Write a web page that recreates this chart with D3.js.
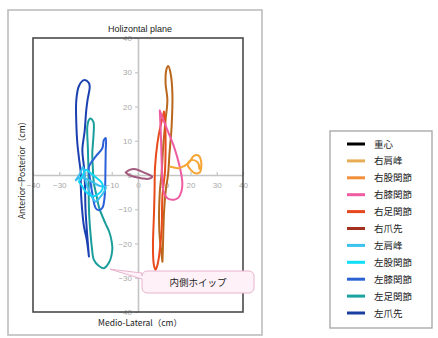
<!DOCTYPE html>
<html>
<head>
<meta charset="utf-8">
<script src="https://cdn.jsdelivr.net/npm/d3@7"></script>
<style>
  html, body { margin: 0; padding: 0; background: #fff; }
  svg { display: block; }
  text { font-family: "Noto Sans CJK JP", "Liberation Sans", sans-serif; }
</style>
</head>
<body>
<svg id="chart" width="438" height="338"></svg>
<script>
// Axis ticks (cm)
const xTicks = [-40, -30, -20, -10, 0, 10, 20, 30, 40];
const yTicks = [-40, -30, -20, -10, 0, 10, 20, 30, 40];

// Legend entries
const seriesNames = ["重心", "右肩峰", "右股関節", "右膝関節", "右足関節", "右爪先",
                     "左肩峰", "左股関節", "左膝関節", "左足関節", "左爪先"];
const seriesColors = ["#000000", "#E8AC52", "#F28F3B", "#EE5CA2", "#E8461E", "#A3301E",
                      "#3CC2EC", "#10DDF6", "#2B62D2", "#1AA3A0", "#1B3FA0"];

// Horizontal-plane trajectories [medio-lateral, anterior-posterior] in cm
const rightShoulder = [[12.4,2.4],[15.6,2.0],[17.5,2.6],[19.4,3.6],[21.3,5.6],[23.2,5.6],[24.0,4.2],
  [24.1,2.4],[23.6,0.8],[21.8,0.5],[20.2,1.4],[18.9,3.2],[20.5,4.4],[22.8,3.6],[23.4,1.8]];
const rightHip = [[9.3,-25.3],[8.1,-16],[8.3,-5],[9.0,0.5],[9.6,8.3],[10.5,16.1],[11.2,21.9],[10.5,26.8],
  [10.8,30.7],[11.5,31.8],[12.4,29.7],[13.1,23.9],[12.8,14.1],[12.0,6.3],[11.5,0.5],[10.5,-5],
  [9.9,-11.1],[9.5,-20.9],[9.3,-25.3]];
const rightKnee = [[8.3,18.8],[11.2,13.1],[13.7,8.3],[15.9,2.4],[16.9,-2.4],[16.6,-4.6],[15.4,-6.6],
  [13.7,-7.2],[11.2,-6.8],[9.8,-5.0],[9.3,-2.0],[9.0,4.0],[8.7,12.0],[8.3,18.8]];
const rightAnkle = [[9.9,18.5],[8.5,14],[7.4,9.3],[6.5,2.4],[6.3,-5],[6.1,-11.1],[5.7,-20.9],[6.0,-26],
  [6.7,-27.7],[7.5,-26],[8.0,-23.8],[9.0,-16],[9.3,-6.3],[10.3,1.5],[10.5,10],[10.3,16],[9.9,18.5]];
const rightToe = [[-4.7,0.7],[-3.2,1.5],[-0.9,1.7],[1.5,1.0],[3.5,0.3],[5.4,-0.5],[4.0,-1.1],[1.6,-1.0],
  [-1.0,-0.6],[-3.4,0.0],[-4.7,0.7]];
const leftShoulder = [[-23.7,-1.5],[-22,-0.8],[-20,-1.0],[-17,-2.2],[-14.5,-3.2],[-12.3,-3.5],[-13,-5],
  [-14.5,-6.5],[-16.1,-7.8],[-17.5,-6.5],[-19,-4],[-20.2,-1],[-20.6,1.5],[-21,2.3],[-22,0.5],[-23.7,-1.5]];
const leftHip = [[-22.5,-2],[-21,0],[-19.9,1.5],[-18,0.5],[-15.5,-1],[-13.6,-2.5],[-13.5,-4],[-15,-5.5],
  [-17,-6.2],[-19.9,-4.9],[-21.5,-3],[-22.5,-2]];
const leftKnee = [[-18.4,-0.5],[-18.7,2.4],[-16,5.5],[-13.6,7.8],[-13,10.2],[-12.3,10.8],[-12.3,7],
  [-12.4,2],[-12.5,-3],[-12.8,-7],[-13.5,-9.5],[-14.8,-10.3],[-16.1,-9.7],[-17.4,-5.4],[-18.4,-0.5]];
const leftAnkle = [[-18.9,2.4],[-19.1,8],[-19.3,14.1],[-18.6,16.2],[-18,16.5],[-17,15.5],[-16.8,14.6],
  [-17,11],[-17.4,6.3],[-17.2,2],[-16.8,-2.4],[-15.8,-6],[-14.9,-9.3],[-12.5,-14],[-11,-16.5],
  [-10,-19.5],[-9.8,-21.9],[-11,-25.5],[-13,-27.2],[-15,-26.5],[-16.8,-24.8],[-17.6,-21],[-18,-18],
  [-18.5,-13],[-18.7,-9.3],[-18.8,-4],[-18.9,2.4]];
const leftToe = [[-18.7,-23.8],[-19.5,-19],[-20.6,-15],[-21.5,-8],[-21.8,-3],[-21.8,0.5],[-22.5,5],
  [-23.1,9.2],[-23.5,15],[-23.5,21.9],[-22.5,26],[-20.6,27.7],[-18.8,27],[-18.4,25.8],[-19.2,22],
  [-19.7,19],[-20.3,13],[-21.2,7.3],[-20.6,2.4],[-20.2,-3],[-20,-10],[-19.5,-16],[-18.7,-23.8]];

// Trajectory strokes, drawn in this order
const traces = [
  { pts: leftToe,       color: "#1B40B0" },
  { pts: leftAnkle,     color: "#1A9E9C" },
  { pts: leftKnee,      color: "#2A60D8" },
  { pts: leftShoulder,  color: "#3CBFEE" },
  { pts: leftHip,       color: "#14D6F6" },
  { pts: rightToe,      color: "#A45A7E" },
  { pts: rightHip,      color: "#BA661C" },
  { pts: rightAnkle,    color: "#E84A1A" },
  { pts: rightKnee,     color: "#EE5CA2" },
  { pts: rightShoulder, color: "#F6A432" }
];

const calloutText = "内側ホイップ";
const calloutTarget = [-10.7, -27.5];

const svg = d3.select("#chart");

// Outer chart frame
svg.append("rect").attr("x", 8).attr("y", 10).attr("width", 254).attr("height", 325)
  .attr("fill", "#fff").attr("stroke", "#BDBDBD").attr("stroke-width", 1.6);

const plot = { left: 33, right: 243, top: 38, bottom: 312 };
const x = d3.scaleLinear().domain([-40, 40]).range([plot.left, plot.right]);
const y = d3.scaleLinear().domain([-40, 40]).range([plot.bottom, plot.top]);

// Axes crossing at the origin
const xAxis = svg.append("g").attr("transform", `translate(0,${y(0)})`)
  .call(d3.axisBottom(x).tickValues(xTicks).tickSizeInner(-3).tickSizeOuter(0).tickPadding(7));
const yAxis = svg.append("g").attr("transform", `translate(${x(0)},0)`)
  .call(d3.axisLeft(y).tickValues(yTicks).tickSizeInner(3).tickSizeOuter(0).tickPadding(3));
[xAxis, yAxis].forEach(g => {
  g.select(".domain").attr("stroke", "#C4C4C4").attr("stroke-width", 1.6);
  g.selectAll(".tick line").attr("stroke", "#C4C4C4").attr("stroke-width", 1.2);
  g.selectAll(".tick text").attr("fill", "#A8A8A8")
    .style("font-family", "'Liberation Sans', Arial, sans-serif").style("font-size", "8px");
});

// Trajectories
const line = d3.line().x(d => x(d[0])).y(d => y(d[1])).curve(d3.curveCatmullRom.alpha(0.5));
svg.append("g").selectAll("path").data(traces).join("path")
  .attr("d", d => line(d.pts))
  .attr("fill", "none").attr("stroke", d => d.color)
  .attr("stroke-width", 2).attr("stroke-linejoin", "round").attr("stroke-linecap", "round");

// Plot-area border
svg.append("rect").attr("x", plot.left).attr("y", plot.top)
  .attr("width", plot.right - plot.left).attr("height", plot.bottom - plot.top)
  .attr("fill", "none").attr("stroke", "#4A4A4A").attr("stroke-width", 1.6);

// Titles
svg.append("text").attr("x", 140).attr("y", 32).attr("text-anchor", "middle")
  .style("font-family", "'Liberation Sans', Arial, sans-serif").style("font-size", "9px").attr("fill", "#222")
  .text("Holizontal plane");
svg.append("text").attr("x", 140).attr("y", 326).attr("text-anchor", "middle")
  .style("font-size", "8.5px").attr("fill", "#222").text("Medio-Lateral（cm）");
svg.append("text").attr("transform", "translate(25,168) rotate(-90)").attr("text-anchor", "middle")
  .style("font-size", "8.5px").attr("fill", "#222").text("Anterior−Posterior（cm）");

// Callout
const bx = 142, by = 271, bw = 112, bh = 22, r = 5;
const tx = x(calloutTarget[0]), ty = y(calloutTarget[1]);
const callout = d3.path();
callout.moveTo(bx + r, by);
callout.lineTo(bx + bw - r, by);
callout.arcTo(bx + bw, by, bx + bw, by + r, r);
callout.lineTo(bx + bw, by + bh - r);
callout.arcTo(bx + bw, by + bh, bx + bw - r, by + bh, r);
callout.lineTo(bx + r, by + bh);
callout.arcTo(bx, by + bh, bx, by + bh - r, r);
callout.lineTo(bx, by + 8);
callout.lineTo(tx, ty);
callout.lineTo(bx, by + 2);
callout.arcTo(bx, by, bx + r, by, r);
callout.closePath();
svg.append("path").attr("d", callout.toString())
  .attr("fill", "#FFF1F8").attr("stroke", "#E6B4CC").attr("stroke-width", 1);
svg.append("text").attr("x", bx + bw / 2).attr("y", by + bh / 2 + 3.5).attr("text-anchor", "middle")
  .style("font-size", "9.5px").attr("fill", "#222").text(calloutText);

// Legend
svg.append("rect").attr("x", 330).attr("y", 131).attr("width", 102).attr("height", 197)
  .attr("fill", "#fff").attr("stroke", "#ABABAB").attr("stroke-width", 1.4);
const items = svg.append("g").selectAll("g").data(seriesNames).join("g")
  .attr("transform", (d, i) => `translate(0,${144 + i * 16.9})`);
items.append("line").attr("x1", 347).attr("x2", 365).attr("y1", 0).attr("y2", 0)
  .attr("stroke", (d, i) => seriesColors[i]).attr("stroke-width", 3);
items.append("text").attr("x", 374).attr("y", 3.5).style("font-size", "9.5px").attr("fill", "#222")
  .text(d => d);
</script>
</body>
</html>
